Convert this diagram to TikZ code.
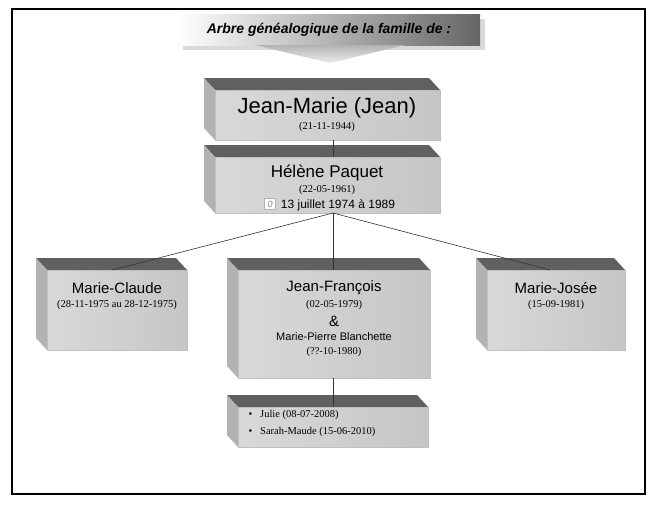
\documentclass[tikz,border=0pt]{standalone}
\usepackage{fontspec}
\setmainfont{Liberation Serif}
\newfontfamily\namefont{Liberation Sans}
\usetikzlibrary{calc}
\newcommand\tdbox[5]{% name, x1,y1,x2,y2 of front
  \fill[gray!75!black] (#2-11,#3-12) -- (#4-11,#3-12) -- (#4,#3) -- (#2,#3) -- cycle;
  \fill[gray!60] (#2-11,#3-12) -- (#2,#3) -- (#2,#5) -- (#2-11,#5-12) -- cycle;
  \node[frontface, minimum width={(#4-#2)*1pt}, minimum height={(#5-#3)*1pt}] (#1) at ({(#2+#4)/2},{(#3+#5)/2}) {};
}
\tikzset{
  frontface/.style={rectangle, inner sep=0pt, left color=gray!30, right color=gray!45, draw=gray!50},
  nm/.style={font=\namefont\fontsize{15}{17}\selectfont},
  dt/.style={font=\fontsize{10.5}{12}\selectfont},
  link/.style={draw=black!80, line width=0.6pt}
}
\begin{document}
\begin{tikzpicture}[x=1pt,y=-1pt]
\useasboundingbox (0,0) rectangle (658,506);
\fill[white] (0,0) rectangle (658,506);
\draw[line width=1.2pt] (12,9) rectangle (645,494);
% title
\fill[gray!30] (183,19) rectangle (485,50);
\shade[left color=white, right color=gray!80!black] (178,14) rectangle (480,45);
\shade[top color=gray!60, bottom color=gray!15] (255,45) -- (405,45) -- (330,63) -- cycle;
\node[font=\namefont\fontsize{14}{16}\selectfont\bfseries\itshape] (title) at (329,30) {Arbre généalogique de la famille de :};
% boxes
\tdbox{jean}{215}{90}{440}{140}
\tdbox{helene}{215}{157}{440}{213}
\tdbox{mc}{47}{270}{187}{350}
\tdbox{jf}{238}{270}{430}{378}
\tdbox{mj}{487}{270}{625}{350}
\tdbox{kids}{238}{407}{428}{447}
% connectors
\coordinate (hub) at (333,213);
\draw[link] (hub) -- (112,270);
\draw[link] (hub) -- (333,270);
\draw[link] (hub) -- (550,270);
\draw[link] (333,378) -- (333,407);
\draw[link] (333,140) -- (333,157);
% texts
\node[font=\namefont\fontsize{22}{24}\selectfont] (t1) at (327,108) {Jean-Marie (Jean)};
\node[dt] (t2) at (327,127) {(21-11-1944)};
\node[font=\namefont\fontsize{17}{19}\selectfont] (t3) at (327,173) {Hélène Paquet};
\node[dt] (t4) at (327,190) {(22-05-1961)};
\node[font=\namefont\fontsize{12}{14}\selectfont] (t5) at (338,205) {13 juillet 1974 à 1989};
\node[draw=gray!60, fill=white, inner sep=0.5pt, font=\namefont\itshape\small, minimum size=11pt] (ring) at (270,204) {\textcolor{gray}{0}};
\node[nm] (m1) at (117,288) {Marie-Claude};
\node[dt] (m2) at (117,305) {(28-11-1975 au 28-12-1975)};
\node[nm] (j1) at (334,288) {Jean-François};
\node[dt] (j2) at (334,305) {(02-05-1979)};
\node[font=\namefont\fontsize{15}{17}\selectfont] (j3) at (334,321) {\&};
\node[font=\namefont\fontsize{11}{13}\selectfont] (j4) at (334,337) {Marie-Pierre Blanchette};
\node[dt] (j5) at (334,352) {(??-10-1980)};
\node[nm] (s1) at (556,288) {Marie-Josée};
\node[dt] (s2) at (556,305) {(15-09-1981)};
\node[dt, anchor=west] (k1) at (245,415) {\textbullet\hspace{8pt}Julie (08-07-2008)};
\node[dt, anchor=west] (k2) at (245,432) {\textbullet\hspace{8pt}Sarah-Maude (15-06-2010)};
\end{tikzpicture}
\end{document}
